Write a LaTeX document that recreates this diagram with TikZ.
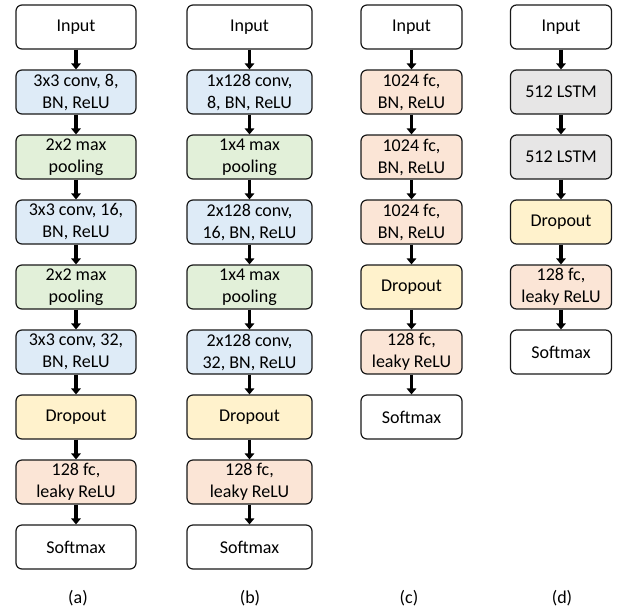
\documentclass[tikz,border=0pt]{standalone}
\usepackage{fontspec}
\setmainfont{Carlito}
\usetikzlibrary{arrows.meta}
\definecolor{convblue}{HTML}{DEEBF7}
\definecolor{poolgreen}{HTML}{E2F0D9}
\definecolor{dropyellow}{HTML}{FFF2CC}
\definecolor{fcpeach}{HTML}{FBE5D6}
\definecolor{lstmgray}{HTML}{E7E6E6}
\newcommand{\boxfont}{\fontsize{18}{22}\selectfont}
\tikzset{
  blk/.style={draw=black!90, line width=1.2pt, rounded corners=6pt,
    minimum height=44pt, inner sep=0pt, align=center, font=\boxfont},
  wa/.style={blk, minimum width=120pt},
  wb/.style={blk, minimum width=125pt},
  wc/.style={blk, minimum width=101pt},
  plain/.style={fill=white},
  conv/.style={fill=convblue},
  pool/.style={fill=poolgreen},
  drop/.style={fill=dropyellow},
  fc/.style={fill=fcpeach},
  lstm/.style={fill=lstmgray},
  flow/.style={line width=3.6pt, -{Triangle[width=9.5pt,length=6pt]}},
  sublabel/.style={font=\boxfont}
}
\begin{document}
\begin{tikzpicture}[x=1pt,y=-1pt]
\useasboundingbox (0,0) rectangle (621,611);

% column (a): 2-D convolutional network
\node[wa,plain] (a0) at (76,27)  {Input};
\node[wa,conv]  (a1) at (76,92)  {3x3 conv, 8,\\BN, ReLU};
\node[wa,pool]  (a2) at (76,157) {2x2 max\\pooling};
\node[wa,conv]  (a3) at (76,222) {3x3 conv, 16,\\BN, ReLU};
\node[wa,pool]  (a4) at (76,287) {2x2 max\\pooling};
\node[wa,conv]  (a5) at (76,352) {3x3 conv, 32,\\BN, ReLU};
\node[wa,drop]  (a6) at (76,417) {Dropout};
\node[wa,fc]    (a7) at (76,482) {128 fc,\\leaky ReLU};
\node[wa,plain] (a8) at (76,547) {Softmax};
\node[sublabel] (la) at (78,598) {(a)};

% column (b): convolutional network with wide kernels
\node[wb,plain] (b0) at (249.5,27)  {Input};
\node[wb,conv]  (b1) at (249.5,92)  {1x128 conv,\\8, BN, ReLU};
\node[wb,pool]  (b2) at (249.5,157) {1x4 max\\pooling};
\node[wb,conv]  (b3) at (249.5,222) {2x128 conv,\\16, BN, ReLU};
\node[wb,pool]  (b4) at (249.5,287) {1x4 max\\pooling};
\node[wb,conv]  (b5) at (249.5,352) {2x128 conv,\\32, BN, ReLU};
\node[wb,drop]  (b6) at (249.5,417) {Dropout};
\node[wb,fc]    (b7) at (249.5,482) {128 fc,\\leaky ReLU};
\node[wb,plain] (b8) at (249.5,547) {Softmax};
\node[sublabel] (lb) at (250,598) {(b)};

% column (c): fully connected network
\node[wc,plain] (c0) at (411.5,27)  {Input};
\node[wc,fc]    (c1) at (411.5,92)  {1024 fc,\\BN, ReLU};
\node[wc,fc]    (c2) at (411.5,157) {1024 fc,\\BN, ReLU};
\node[wc,fc]    (c3) at (411.5,222) {1024 fc,\\BN, ReLU};
\node[wc,drop]  (c4) at (411.5,287) {Dropout};
\node[wc,fc]    (c5) at (411.5,352) {128 fc,\\leaky ReLU};
\node[wc,plain] (c6) at (411.5,417) {Softmax};
\node[sublabel] (lc) at (409,598) {(c)};

% column (d): recurrent network
\node[wc,plain] (d0) at (561,27)  {Input};
\node[wc,lstm]  (d1) at (561,92)  {512 LSTM};
\node[wc,lstm]  (d2) at (561,157) {512 LSTM};
\node[wc,drop]  (d3) at (561,222) {Dropout};
\node[wc,fc]    (d4) at (561,287) {128 fc,\\leaky ReLU};
\node[wc,plain] (d5) at (561,352) {Softmax};
\node[sublabel] (ld) at (562,598) {(d)};

% connectors
\foreach \i [count=\j] in {0,...,7} \draw[flow] (a\i.south) -- (a\j.north);
\foreach \i [count=\j] in {0,...,7} \draw[flow] (b\i.south) -- (b\j.north);
\foreach \i [count=\j] in {0,...,5} \draw[flow] (c\i.south) -- (c\j.north);
\foreach \i [count=\j] in {0,...,4} \draw[flow] (d\i.south) -- (d\j.north);
\end{tikzpicture}
\end{document}
